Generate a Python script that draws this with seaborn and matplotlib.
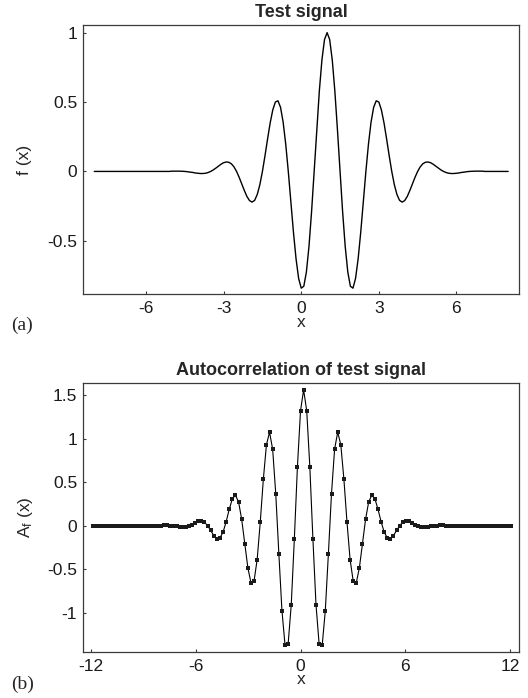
import numpy as np
import pandas as pd
import matplotlib
matplotlib.use("Agg")
import matplotlib.pyplot as plt
import seaborn as sns

# test signal f(x), read every 0.1 from its centre (x = 1) outwards; the curve is symmetric
signal_half = [
    1.000, 0.950, 0.803, 0.579, 0.301, 0.000, -0.290, -0.540, -0.724, -0.827,
    -0.841, -0.771, -0.630, -0.439, -0.220, 0.000, 0.198, 0.356, 0.462, 0.509,
    0.500, 0.443, 0.350, 0.235, 0.114, 0.000, -0.096, -0.166, -0.208, -0.221,
    -0.210, -0.180, -0.137, -0.089, -0.042, 0.000, 0.033, 0.055, 0.066, 0.068,
    0.063, 0.052, 0.038, 0.024, 0.011, 0.000, -0.008, -0.013, -0.015, -0.015,
    -0.013, -0.011, -0.007, -0.005, -0.002, 0.000, 0.001, 0.002, 0.002, 0.002,
    0.002,
]
# sample grid of the test signal: -8 .. 8 in steps of 0.1
signal_x = np.round(np.linspace(-8, 8, 161), 2)
signal_y = [0.0] * 30 + signal_half[:0:-1] + signal_half + [0.0] * 10

# autocorrelation, one value per lag sample, from the peak outwards (symmetric)
acorr_half = [
    1.560, 1.320, 0.678, -0.155, -0.911, -1.358, -1.372, -0.975, -0.320, 0.369,
    0.879, 1.074, 0.931, 0.535, 0.041, -0.389, -0.635, -0.656, -0.484, -0.206,
    0.074, 0.273, 0.350, 0.310, 0.190, 0.047, -0.073, -0.140, -0.149, -0.113,
    -0.055, 0.001, 0.039, 0.054, 0.049, 0.031, 0.011, -0.005, -0.014, -0.016,
    -0.012, -0.007, -0.001, 0.002, 0.004, 0.004,
]
lag_step = 0.1775
# lag samples, peak sits on the sample one step right of 0
acorr_x = np.arange(-67, 69) * lag_step
acorr_y = [0.0] * 23 + acorr_half[:0:-1] + acorr_half + [0.0] * 22

# ticks
top_xticks = [-6, -3, 0, 3, 6]
top_yticks = [-0.5, 0, 0.5, 1]
top_yticklabels = ["-0.5", "0", "0.5", "1"]
bot_xticks = [-12, -6, 0, 6, 12]
bot_yticks = [-1, -0.5, 0, 0.5, 1, 1.5]
bot_yticklabels = ["-1", "-0.5", "0", "0.5", "1", "1.5"]

sig_df = pd.DataFrame({"x": signal_x, "f": signal_y})
ac_df = pd.DataFrame({"x": acorr_x, "A": acorr_y})

sns.set_style("ticks")
plt.rcParams["font.family"] = ["Liberation Sans", "DejaVu Sans"]
plt.rcParams["mathtext.default"] = "regular"
plt.rcParams["axes.unicode_minus"] = False

fig = plt.figure(figsize=(5.28, 6.98), dpi=100)
ax1 = fig.add_axes([0.158, 0.5784, 0.825, 0.3854])
ax2 = fig.add_axes([0.158, 0.0663, 0.825, 0.3846])

# top: test signal
sns.lineplot(data=sig_df, x="x", y="f", ax=ax1, color="black", linewidth=1.0)
ax1.set_xlim(-8.42, 8.42)
ax1.set_ylim(-0.885, 1.053)
ax1.set_xticks(top_xticks)
ax1.set_xticklabels([str(t) for t in top_xticks])
ax1.set_yticks(top_yticks)
ax1.set_yticklabels(top_yticklabels)
ax1.set_title("Test signal", fontsize=13, fontweight="bold", pad=6)
ax1.set_xlabel("x", fontsize=12.5, labelpad=-1)
ax1.set_ylabel("f (x)", fontsize=12.5, labelpad=11)

# bottom: autocorrelation with sample markers
sns.lineplot(data=ac_df, x="x", y="A", ax=ax2, color="black", linewidth=0.8,
             marker="s", markersize=2.7, markeredgewidth=0,
             markerfacecolor="#1a1a1a")
ax2.set_xlim(-12.44, 12.52)
ax2.set_ylim(-1.448, 1.636)
ax2.set_xticks(bot_xticks)
ax2.set_xticklabels([str(t) for t in bot_xticks])
ax2.set_yticks(bot_yticks)
ax2.set_yticklabels(bot_yticklabels)
ax2.set_title("Autocorrelation of test signal", fontsize=13, fontweight="bold", pad=6)
ax2.set_xlabel("x", fontsize=12.5, labelpad=-1)
ax2.set_ylabel("A$_f$ (x)", fontsize=12.5, labelpad=9)

for ax in (ax1, ax2):
    for s in ax.spines.values():
        s.set_visible(True)
        s.set_color("#3a3a3a")
        s.set_linewidth(0.9)
    ax.tick_params(direction="in", length=2.5, width=0.8, color="#3a3a3a",
                   labelsize=12.5, labelcolor="#1a1a1a")
    ax.tick_params(axis="x", pad=5)
    ax.tick_params(axis="y", pad=4.5)

fig.text(0.021, 1 - 325 / 698, "(a)", fontsize=14, va="center",
         family=["Liberation Serif", "DejaVu Serif"])
fig.text(0.021, 1 - 684 / 698, "(b)", fontsize=14, va="center",
         family=["Liberation Serif", "DejaVu Serif"])

fig.savefig("out.png", dpi=100)
